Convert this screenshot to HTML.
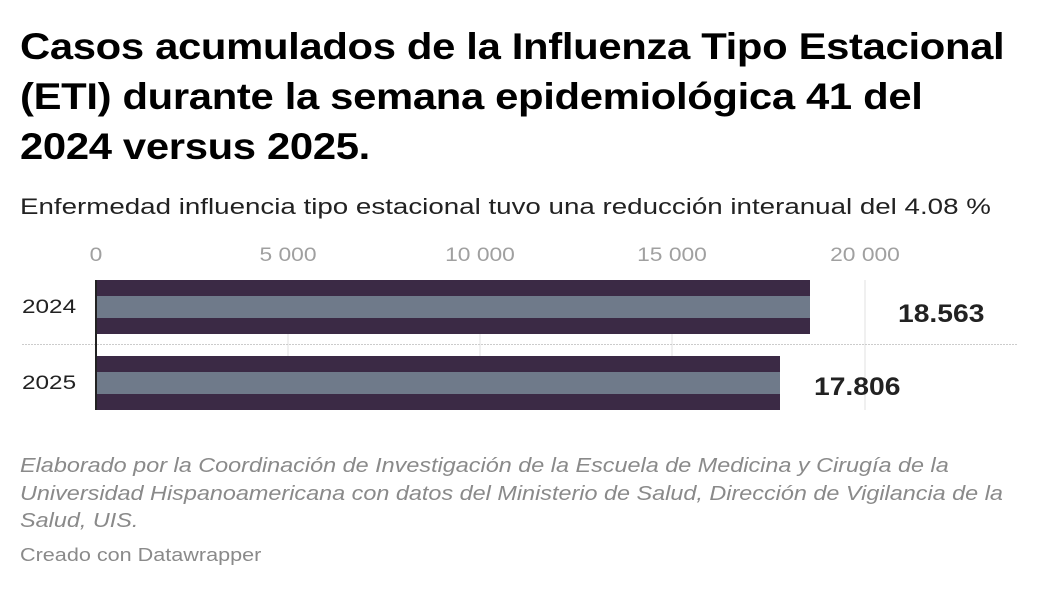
<!DOCTYPE html>
<html><head><meta charset="utf-8"><style>
body{margin:0;width:1040px;height:590px;background:#fff;font-family:"Liberation Sans",sans-serif;position:relative;overflow:hidden}
.a{position:absolute;white-space:nowrap;transform-origin:0 0}
h1{position:absolute;left:20px;top:22px;margin:0;font-size:37px;line-height:50px;font-weight:bold;color:#000;letter-spacing:-0.3px;white-space:nowrap;transform:scaleX(1.13);transform-origin:0 0}
.t{font-size:19px;color:#a0a0a0;transform:translateX(-50%) scaleX(1.2);transform-origin:50% 0}
</style></head><body>
<h1>Casos acumulados de la Influenza Tipo Estacional<br>(ETI) durante la semana epidemiológica 41 del<br>2024 versus 2025.</h1>
<div class="a" style="left:20px;top:194px;font-size:22px;color:#222;transform:scaleX(1.26)">Enfermedad influencia tipo estacional tuvo una reducción interanual del 4.08 %</div>
<div class="a t" style="left:96px;top:245px">0</div>
<div class="a t" style="left:288px;top:245px">5 000</div>
<div class="a t" style="left:480px;top:245px">10 000</div>
<div class="a t" style="left:672px;top:245px">15 000</div>
<div class="a t" style="left:865px;top:245px">20 000</div>
<svg class="a" style="left:0;top:0" width="1040" height="590">
<line x1="288" y1="280" x2="288" y2="410" stroke="#e2e2e2"/>
<line x1="480" y1="280" x2="480" y2="410" stroke="#e2e2e2"/>
<line x1="672" y1="280" x2="672" y2="410" stroke="#e2e2e2"/>
<line x1="865" y1="280" x2="865" y2="410" stroke="#e2e2e2"/>
<line x1="22" y1="344.5" x2="1018" y2="344.5" stroke="#ccc" stroke-dasharray="2,1"/>
<rect x="96" y="280" width="714" height="54" fill="#3b2a45"/>
<rect x="97" y="296" width="713" height="22" fill="#6f7a8a"/>
<rect x="96" y="356" width="684" height="54" fill="#3b2a45"/>
<rect x="97" y="372" width="683" height="22" fill="#6f7a8a"/>
<line x1="96" y1="280" x2="96" y2="410" stroke="#222" stroke-width="2"/>
</svg>
<div class="a" style="left:22px;top:297px;font-size:19px;color:#222;transform:scaleX(1.28)">2024</div>
<div class="a" style="left:22px;top:373px;font-size:19px;color:#222;transform:scaleX(1.28)">2025</div>
<div class="a" style="left:898px;top:300px;font-size:25px;font-weight:bold;color:#222;transform:scaleX(1.13)">18.563</div>
<div class="a" style="left:814px;top:373px;font-size:25px;font-weight:bold;color:#222;transform:scaleX(1.13)">17.806</div>
<div class="a" style="left:20px;top:453px;font-size:20px;line-height:27.5px;font-style:italic;color:#8a8a8a;transform:scaleX(1.17)">Elaborado por la Coordinación de Investigación de la Escuela de Medicina y Cirugía de la<br>Universidad Hispanoamericana con datos del Ministerio de Salud, Dirección de Vigilancia de la<br>Salud, UIS.</div>
<div class="a" style="left:20px;top:545px;font-size:18px;color:#8a8a8a;transform:scaleX(1.2)">Creado con Datawrapper</div>
</body></html>
